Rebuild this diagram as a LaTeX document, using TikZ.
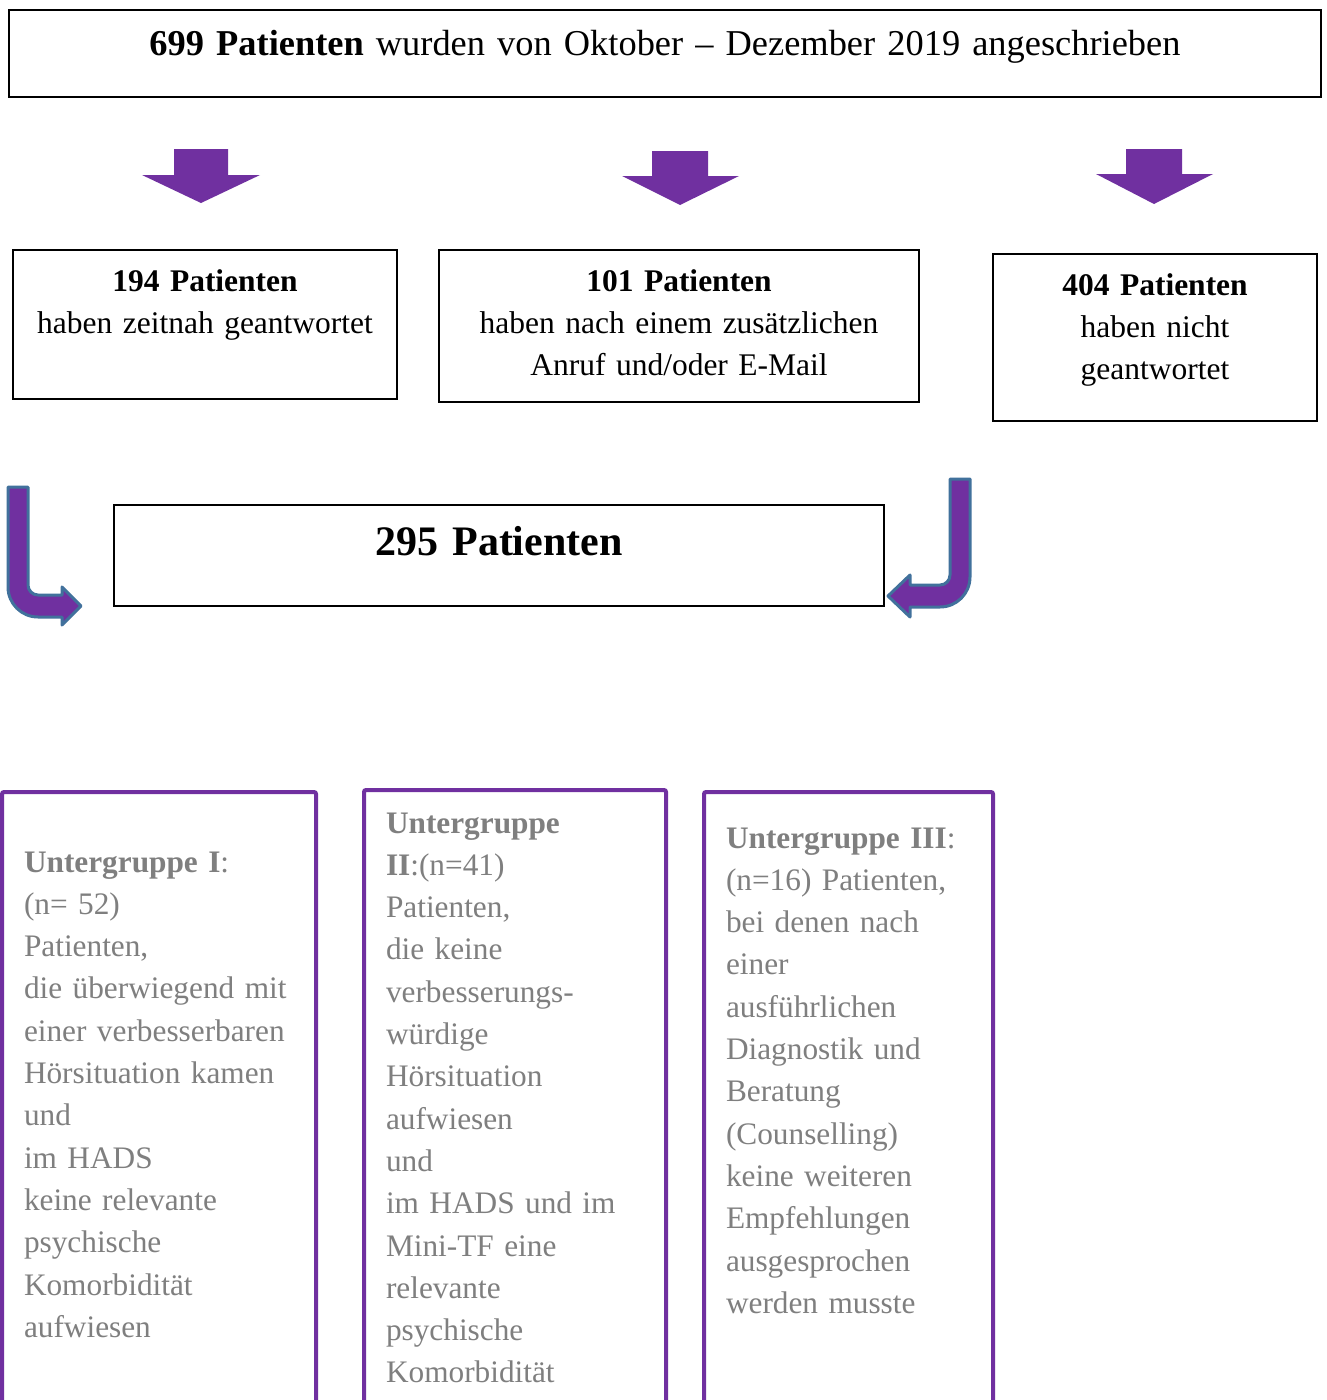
\documentclass[tikz,border=0pt]{standalone}
\usepackage{fontspec}
\setmainfont{Liberation Serif}
\definecolor{purp}{HTML}{7030A0}
\definecolor{arrowedge}{HTML}{41719C}
\definecolor{txtgray}{HTML}{7F7F7F}
\begin{document}
\begin{tikzpicture}[x=1pt,y=-1pt,
  box/.style={draw=black, line width=1.3pt, inner sep=0pt, outer sep=0pt, anchor=north west},
  pbox/.style={draw=purp, line width=4pt, rounded corners=2pt, inner sep=0pt, outer sep=0pt, anchor=north west},
  lbl/.style={inner sep=0pt, outer sep=0pt, anchor=base, align=center, font=\fontsize{31.5}{42.3}\selectfont},
  glbl/.style={inner sep=0pt, outer sep=0pt, anchor=base west, align=left, text=txtgray, font=\fontsize{31.3}{42.3}\selectfont},
  downarrow/.style={fill=purp},
  bentarrow/.style={fill=purp, draw=arrowedge, line width=3pt, line join=round}
]
\useasboundingbox (0,0) rectangle (1327,1400);
\fill[white] (0,0) rectangle (1327,1400);

% top box
\node[box, minimum width=1312pt, minimum height=87pt] (top) at (9,10) {};
\node[lbl, font=\fontsize{36.4}{44}\selectfont, text width=1300pt] (toptxt) at (665,55)
  {\textbf{699 Patienten} wurden von Oktober – Dezember 2019 angeschrieben};

% down arrows
\fill[downarrow] (174,149) -- (228,149) -- (228,175) -- (260,175) -- (201,203) -- (142,175) -- (174,175) -- cycle;
\fill[downarrow] (652,151) -- (708,151) -- (708,176) -- (739,176) -- (680,205) -- (622,176) -- (652,176) -- cycle;
\fill[downarrow] (1126,149) -- (1182,149) -- (1182,174) -- (1213,174) -- (1154,204) -- (1096,174) -- (1126,174) -- cycle;

% three boxes
\node[box, minimum width=384pt, minimum height=149pt] (b1) at (13,250) {};
\node[lbl, text width=380pt] (b1txt) at (205,291) {\textbf{194 Patienten}\\haben zeitnah geantwortet};
\node[box, minimum width=480pt, minimum height=152pt] (b2) at (439,250) {};
\node[lbl, text width=470pt] (b2txt) at (679,291) {\textbf{101 Patienten}\\haben nach einem zusätzlichen\\Anruf und/oder E-Mail};
\node[box, minimum width=324pt, minimum height=167pt] (b3) at (993,254) {};
\node[lbl, text width=320pt] (b3txt) at (1155,295) {\textbf{404 Patienten}\\haben nicht\\geantwortet};

% 295 box
\node[box, minimum width=770pt, minimum height=101pt] (sum) at (114,505) {};
\node[lbl, font=\fontsize{42}{50}\selectfont, text width=760pt] (sumtxt) at (499,555) {\textbf{295 Patienten}};

% bent arrows
\filldraw[bentarrow] (8,487) -- (28,487) -- (28,585) .. controls (28,590.5) and (32.5,595) .. (38,595)
  -- (62,595) -- (62,587) -- (81,606) -- (62,625) -- (62,617) -- (38,617)
  .. controls (21.4,617) and (8,603.6) .. (8,587) -- cycle;
\filldraw[bentarrow] (950,479) -- (970,479) -- (970,577) .. controls (970,593.6) and (956.6,607) .. (940,607)
  -- (910,607) -- (910,617) -- (888,596) -- (910,575) -- (910,585) -- (940,585)
  .. controls (945.5,585) and (950,580.5) .. (950,575) -- cycle;

% subgroup boxes
\node[pbox, minimum width=314pt, minimum height=700pt] (g1) at (2,792) {};
\node[pbox, minimum width=302pt, minimum height=700pt] (g2) at (364,790) {};
\node[pbox, minimum width=289pt, minimum height=700pt] (g3) at (704,792) {};

\node[glbl, text width=290pt] (g1txt) at (24,872) {\textbf{Untergruppe I}:\\(n= 52)\\Patienten,\\die überwiegend mit\\einer verbesserbaren\\Hörsituation kamen\\und\\im HADS\\keine relevante\\psychische\\Komorbidität\\aufwiesen};
\node[glbl, text width=275pt] (g2txt) at (386,833) {\textbf{Untergruppe}\\\textbf{II}:(n=41)\\Patienten,\\die keine\\verbesserungs-\\würdige\\Hörsituation\\aufwiesen\\und\\im HADS und im\\Mini-TF eine\\relevante\\psychische\\Komorbidität};
\node[glbl, text width=262pt] (g3txt) at (726,848) {\textbf{Untergruppe III}:\\(n=16) Patienten,\\bei denen nach\\einer\\ausführlichen\\Diagnostik und\\Beratung\\(Counselling)\\keine weiteren\\Empfehlungen\\ausgesprochen\\werden musste};
\end{tikzpicture}
\end{document}
